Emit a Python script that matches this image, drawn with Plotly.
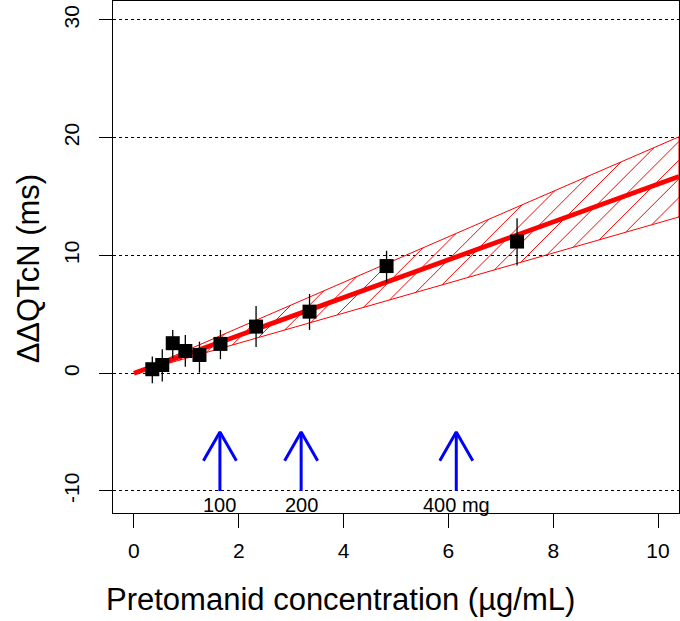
import plotly.graph_objects as go

# ---- data ----
conc = [0.35, 0.54, 0.74, 0.98, 1.25, 1.65, 2.33, 3.35, 4.82, 7.31]
ddqtc = [0.34, 0.70, 2.55, 1.89, 1.55, 2.49, 3.96, 5.23, 9.10, 11.18]
ci_hi = [1.41, 2.04, 3.68, 3.25, 2.68, 3.68, 5.70, 6.73, 10.40, 13.16]
ci_lo = [-0.85, -0.71, 1.27, 0.56, 0.05, 1.19, 2.22, 3.68, 7.70, 9.14]

fit_x = [0, 10.4]
fit_y = [0, 16.70]
band_upper = [0, 20.08]
band_lower = [0, 13.27]

dose_conc = [1.64, 3.19, 6.15]
dose_labels = ["100", "200", "400 mg"]
arrow_base = -10
arrow_tip = -5.0

x_ticks = [0, 2, 4, 6, 8, 10]
y_ticks = [-10, 0, 10, 20, 30]
y_tick_text = ["-10", "0", "10", "20", "30"]

FONT = "Liberation Sans, Arial, sans-serif"

X_RANGE = [-0.4, 10.4]
Y_RANGE = [-11.87, 31.61]
PLOT_W, PLOT_H = 566, 512
px_per_x = PLOT_W / (X_RANGE[1] - X_RANGE[0])
px_per_y = PLOT_H / (Y_RANGE[1] - Y_RANGE[0])

fig = go.Figure()

# ---- hatched confidence band (45 deg hatching, 1 px red lines) ----
su = (band_upper[1] / fit_x[1]) * px_per_y / px_per_x   # pixel slopes
sl = (band_lower[1] / fit_x[1]) * px_per_y / px_per_x
U = fit_x[1] * px_per_x
step, phase = 18.7, 14.0
hx, hy = [], []
k = phase
while True:
    u_lo = k / (1 - sl)
    if u_lo > U:
        break
    u_up = k / (1 - su)
    if u_up <= U:
        u2, v2 = u_up, su * u_up
    else:
        u2, v2 = U, U - k
    hx += [u_lo / px_per_x, u2 / px_per_x, None]
    hy += [sl * u_lo / px_per_y, v2 / px_per_y, None]
    k += step
fig.add_trace(go.Scatter(x=hx, y=hy, mode="lines",
                         line=dict(color="#FF0000", width=1),
                         hoverinfo="skip", showlegend=False))

# band outline
fig.add_trace(go.Scatter(
    x=fit_x + fit_x[::-1],
    y=band_upper + band_lower[::-1],
    mode="lines",
    line=dict(color="#FF0000", width=1),
    hoverinfo="skip", showlegend=False,
))

# fitted line
fig.add_trace(go.Scatter(
    x=fit_x, y=fit_y, mode="lines",
    line=dict(color="#FF0000", width=4.8),
    showlegend=False,
))

# observed points with error bars
err_plus = [h - y for h, y in zip(ci_hi, ddqtc)]
err_minus = [y - l for l, y in zip(ci_lo, ddqtc)]
fig.add_trace(go.Scatter(
    x=conc, y=ddqtc, mode="markers",
    marker=dict(symbol="square", size=14, color="black", line=dict(width=0)),
    error_y=dict(type="data", symmetric=False, array=err_plus,
                 arrayminus=err_minus, color="black", thickness=1.3, width=0),
    showlegend=False,
))

# dose arrows (open V heads, 30 deg, ~33 px long)
head_dx = 16.5 / px_per_x
head_dy = 28.6 / px_per_y
ax, ay = [], []
for c in dose_conc:
    ax += [c, c, None, c - head_dx, c, c + head_dx, None]
    ay += [arrow_base, arrow_tip, None, arrow_tip - head_dy, arrow_tip, arrow_tip - head_dy, None]
fig.add_trace(go.Scatter(
    x=ax, y=ay, mode="lines",
    line=dict(color="#0000FF", width=3),
    showlegend=False, hoverinfo="skip",
))

for c, lab in zip(dose_conc, dose_labels):
    fig.add_annotation(x=c, y=-11.2, text=lab, showarrow=False,
                       xanchor="center", yanchor="middle",
                       font=dict(family=FONT, size=20, color="black"))

# axis titles
fig.add_annotation(xref="paper", yref="paper", x=-0.15, y=0.478,
                   text="ΔΔQTcN (ms)", textangle=-90, showarrow=False,
                   xanchor="center", yanchor="middle",
                   font=dict(family=FONT, size=31, color="black"))
fig.add_annotation(xref="paper", yref="paper", x=(340 - 113) / 566, y=-0.168,
                   text="Pretomanid concentration (µg/mL)", showarrow=False,
                   xanchor="center", yanchor="middle",
                   font=dict(family=FONT, size=31, color="black"))

fig.update_layout(
    width=680, height=621,
    margin=dict(l=113, r=1, t=1, b=108),
    plot_bgcolor="white", paper_bgcolor="white",
    font=dict(family=FONT, color="black"),
    xaxis=dict(range=X_RANGE, tickvals=x_ticks, ticks="outside", ticklen=14,
               tickwidth=1, tickcolor="black", showline=True, linecolor="black",
               linewidth=1, mirror=True, showgrid=False, zeroline=False,
               tickfont=dict(size=21, family=FONT), ticklabelstandoff=5),
    yaxis=dict(range=Y_RANGE, tickvals=y_ticks, ticktext=y_tick_text,
               ticks="outside", ticklen=13,
               tickwidth=1, tickcolor="black", showline=True, linecolor="black",
               linewidth=1, mirror=True, showgrid=True, gridcolor="black",
               gridwidth=1, griddash="dot", zeroline=False, tickangle=-90,
               tickfont=dict(size=21, family=FONT), ticklabelstandoff=12),
)

fig.write_html(
    "out.html",
    config={"displayModeBar": False},
    post_script="document.body.style.margin='0';document.body.style.overflow='hidden';",
)
